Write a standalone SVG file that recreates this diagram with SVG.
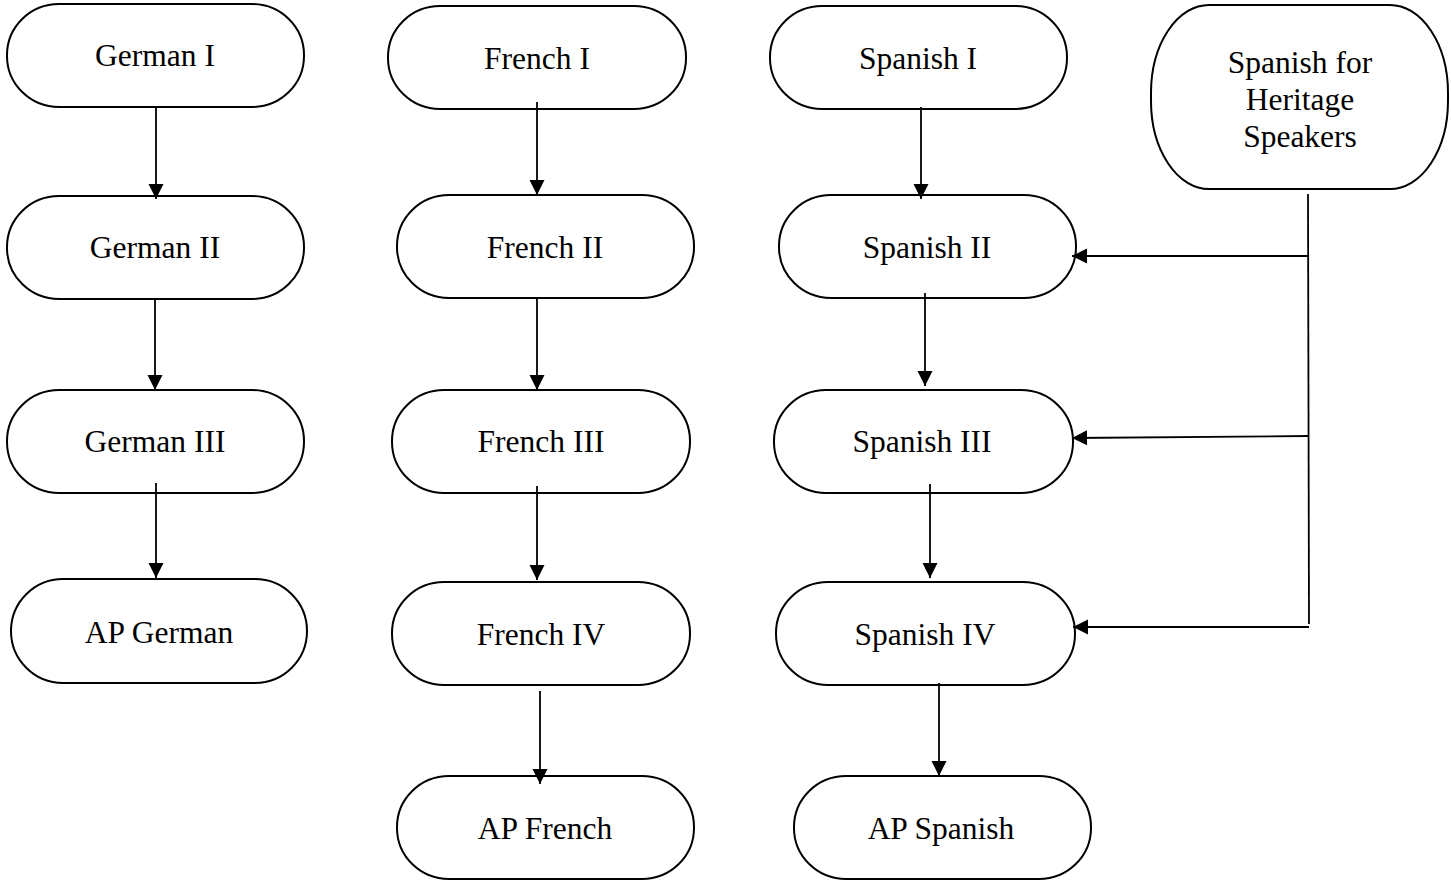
<svg xmlns="http://www.w3.org/2000/svg" width="1451" height="880" viewBox="0 0 1451 880">
  <style>
    .box { fill: #ffffff; stroke: #000000; stroke-width: 2; }
    .lbl { font-family: "Liberation Serif", "Times New Roman", serif; font-size: 31.5px; fill: #000000; text-anchor: middle; }
    .wire { fill: none; stroke: #000000; stroke-width: 1.8; }
    .arrow { marker-end: url(#head); }
  </style>
  <defs>
    <marker id="head" markerUnits="userSpaceOnUse" markerWidth="18" markerHeight="18" viewBox="0 0 18 18" refX="16" refY="9" orient="auto">
      <path d="M1,1.5 L16,9 L1,16.5 Z" fill="#000000"/>
    </marker>
  </defs>

  <!-- German track -->
  <g id="german-1"><rect class="box" x="7" y="4" width="297" height="103" rx="52" ry="51"/><text class="lbl" x="155" y="66">German I</text></g>
  <g id="german-2"><rect class="box" x="7" y="196" width="297" height="103" rx="52" ry="51"/><text class="lbl" x="155" y="258">German II</text></g>
  <g id="german-3"><rect class="box" x="7" y="390" width="297" height="103" rx="52" ry="51"/><text class="lbl" x="155" y="452">German III</text></g>
  <g id="ap-german"><rect class="box" x="11" y="579" width="296" height="104" rx="52" ry="52"/><text class="lbl" x="159" y="643">AP German</text></g>

  <!-- French track -->
  <g id="french-1"><rect class="box" x="388" y="6" width="298" height="103" rx="52" ry="51"/><text class="lbl" x="537" y="69">French I</text></g>
  <g id="french-2"><rect class="box" x="397" y="195" width="297" height="103" rx="52" ry="51"/><text class="lbl" x="545" y="258">French II</text></g>
  <g id="french-3"><rect class="box" x="392" y="390" width="298" height="103" rx="52" ry="51"/><text class="lbl" x="541" y="452">French III</text></g>
  <g id="french-4"><rect class="box" x="392" y="582" width="298" height="103" rx="52" ry="51"/><text class="lbl" x="541" y="645">French IV</text></g>
  <g id="ap-french"><rect class="box" x="397" y="776" width="297" height="103" rx="52" ry="51"/><text class="lbl" x="545" y="839">AP French</text></g>

  <!-- Spanish track -->
  <g id="spanish-1"><rect class="box" x="770" y="6" width="297" height="103" rx="52" ry="51"/><text class="lbl" x="918" y="69">Spanish I</text></g>
  <g id="spanish-2"><rect class="box" x="779" y="195" width="297" height="103" rx="52" ry="51"/><text class="lbl" x="927" y="258">Spanish II</text></g>
  <g id="spanish-3"><rect class="box" x="774" y="390" width="299" height="103" rx="52" ry="51"/><text class="lbl" x="922" y="452">Spanish III</text></g>
  <g id="spanish-4"><rect class="box" x="776" y="582" width="299" height="103" rx="52" ry="51"/><text class="lbl" x="925" y="645">Spanish IV</text></g>
  <g id="ap-spanish"><rect class="box" x="794" y="776" width="297" height="103" rx="52" ry="51"/><text class="lbl" x="941" y="839">AP Spanish</text></g>

  <!-- Heritage course: taller box with deeper rounded ends -->
  <g id="heritage"><rect class="box" x="1151" y="5" width="297" height="184" rx="58" ry="88"/>
    <text class="lbl" x="1300" y="73">Spanish for</text>
    <text class="lbl" x="1300" y="110">Heritage</text>
    <text class="lbl" x="1300" y="147">Speakers</text>
  </g>

  <!-- Connectors -->
  <g id="connectors">
    <line class="wire arrow" x1="156" y1="107" x2="156" y2="199"/>
    <line class="wire arrow" x1="155" y1="299" x2="155" y2="390"/>
    <line class="wire arrow" x1="156" y1="483" x2="156" y2="578"/>

    <line class="wire arrow" x1="537" y1="102" x2="537" y2="195"/>
    <line class="wire arrow" x1="537" y1="298" x2="537" y2="390"/>
    <line class="wire arrow" x1="537" y1="486" x2="537" y2="580"/>
    <line class="wire arrow" x1="540" y1="691" x2="540" y2="784"/>

    <line class="wire arrow" x1="921" y1="107" x2="921" y2="199"/>
    <line class="wire arrow" x1="925" y1="293" x2="925" y2="386"/>
    <line class="wire arrow" x1="930" y1="484" x2="930" y2="578"/>
    <line class="wire arrow" x1="939" y1="683" x2="939" y2="776"/>

    <line class="wire" x1="1308" y1="194" x2="1309" y2="624"/>
    <line class="wire arrow" x1="1308" y1="256" x2="1072" y2="256"/>
    <line class="wire arrow" x1="1309" y1="436" x2="1072" y2="438"/>
    <line class="wire arrow" x1="1309" y1="627" x2="1073" y2="627"/>
  </g>
</svg>
